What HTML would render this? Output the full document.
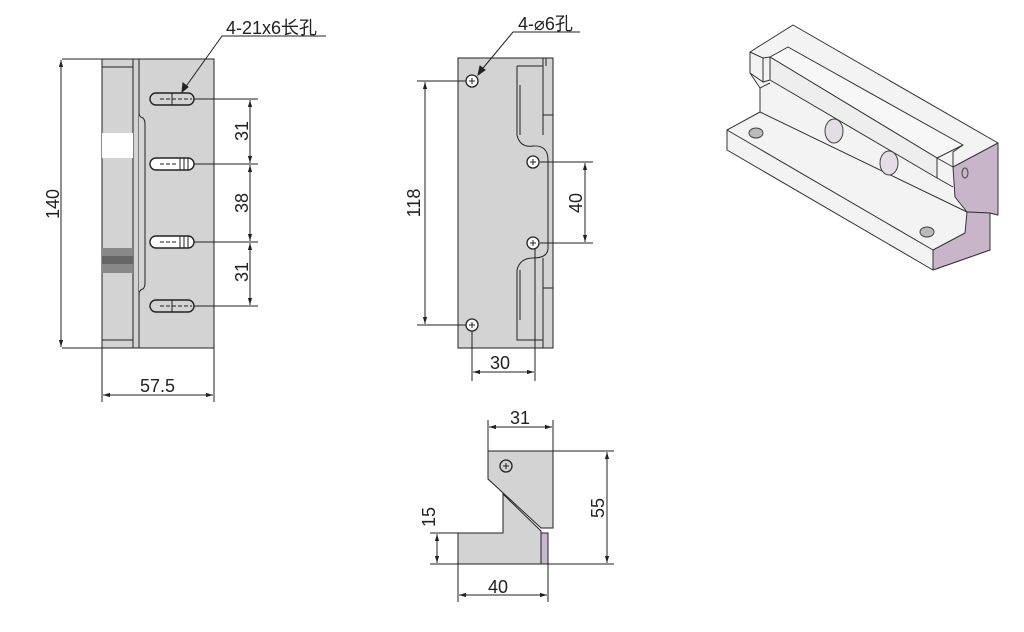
<!DOCTYPE html>
<html><head><meta charset="utf-8"><style>
html,body{margin:0;padding:0;background:#fff;width:1024px;height:632px;overflow:hidden}
svg text{font-family:"Liberation Sans","Noto Sans CJK SC",sans-serif;font-size:18px;fill:#222}
</style></head><body>
<svg width="1024" height="632" viewBox="0 0 1024 632" xmlns="http://www.w3.org/2000/svg">
<defs>
<marker id="a" viewBox="0 0 10 10" refX="10" refY="5" markerWidth="9" markerHeight="7" orient="auto-start-reverse" markerUnits="userSpaceOnUse"><path d="M0,2 L10,5 L0,8 z" fill="#222"/></marker>
</defs>
<g stroke="#222" stroke-width="1" fill="none">
<!-- LEFT VIEW -->
<rect x="102" y="59" width="112" height="289" fill="#d3d3d3"/>
<line x1="133" y1="59" x2="133" y2="348"/><line x1="139" y1="59" x2="139" y2="348"/>
<line x1="102" y1="67" x2="133" y2="67"/><line x1="102" y1="340" x2="133" y2="340"/>
<path d="M139,59 V113 Q139,117 143,118 Q145,120 145,124 V283 Q145,287 143,289 Q139,290 139,294 V348" fill="#d3d3d3"/>
<rect x="102" y="133" width="31" height="25" fill="#fff" stroke="none"/>
<rect x="102" y="248" width="31" height="25" fill="#888" stroke="none"/>
<rect x="102" y="256" width="31" height="8" fill="#666" stroke="none"/>
<rect x="150" y="93" width="44" height="12" rx="6" fill="#d3d3d3" stroke-width="1.4"/>
<rect x="150" y="158" width="44" height="12" rx="6" fill="#fff" stroke-width="1.4"/>
<rect x="150" y="236" width="44" height="12" rx="6" fill="#fff" stroke-width="1.4"/>
<rect x="150" y="300" width="44" height="12" rx="6" fill="#d3d3d3" stroke-width="1.4"/>
<g stroke-dasharray="4,2"><line x1="160" y1="99" x2="192" y2="99"/><line x1="160" y1="306" x2="192" y2="306"/><line x1="160" y1="164" x2="178" y2="164"/><line x1="160" y1="242" x2="178" y2="242"/></g>
<line x1="172" y1="93" x2="172" y2="105"/><line x1="172" y1="300" x2="172" y2="312"/>
<path d="M180,158 V170 M184,158 V170 M188,158 V170 M180,236 V248 M184,236 V248 M188,236 V248"/>
<line x1="62" y1="59" x2="102" y2="59"/><line x1="62" y1="348" x2="102" y2="348"/>
<line x1="61" y1="60" x2="61" y2="347" marker-start="url(#a)" marker-end="url(#a)"/>
<path d="M194,99 H258 M194,164 H258 M194,242 H258 M194,306 H258"/>
<line x1="250" y1="100" x2="250" y2="163" marker-start="url(#a)" marker-end="url(#a)"/>
<line x1="250" y1="165" x2="250" y2="241" marker-start="url(#a)" marker-end="url(#a)"/>
<line x1="250" y1="243" x2="250" y2="305" marker-start="url(#a)" marker-end="url(#a)"/>
<path d="M102,348 V402 M214,348 V402"/>
<line x1="103" y1="395" x2="213" y2="395" marker-start="url(#a)" marker-end="url(#a)"/>
<path d="M326,36 H222 L182,92"/><path d="M182,92 l1,-9 l5,4 z" fill="#222"/>
<!-- MIDDLE VIEW -->
<rect x="458" y="58" width="95" height="290" fill="#d3d3d3"/>
<path d="M543,58 V135 M517,66 V135 Q520,148 533,146 Q548,145 548,160 V248 Q548,258 533,258 Q520,258 517,270 V340 H543"/>
<path d="M517,66 H543 M543,115 H553 M543,288 H553 M520,135 V85 M520,270 V320"/>
<path d="M543,258 V348 M543,58 H546 V66"/>
<g fill="#fff" stroke-width="1.3"><circle cx="472" cy="81" r="6"/><circle cx="533" cy="162" r="6"/><circle cx="533" cy="243" r="6"/><circle cx="472" cy="325" r="6"/></g>
<path d="M469,81 h6 M472,78 v6 M530,162 h6 M533,159 v6 M530,243 h6 M533,240 v6 M469,325 h6 M472,322 v6"/>
<line x1="417" y1="81" x2="466" y2="81"/><line x1="417" y1="325" x2="466" y2="325"/>
<line x1="425" y1="82" x2="425" y2="324" marker-start="url(#a)" marker-end="url(#a)"/>
<line x1="540" y1="162" x2="593" y2="162"/><line x1="540" y1="243" x2="593" y2="243"/>
<line x1="585" y1="163" x2="585" y2="242" marker-start="url(#a)" marker-end="url(#a)"/>
<path d="M472,331 V381 M535,249 V381"/>
<line x1="473" y1="372" x2="534" y2="372" marker-start="url(#a)" marker-end="url(#a)"/>
<path d="M580,32 H513 L479,73"/><path d="M478,75 l2,-9 l5,4 z" fill="#222"/>
<!-- BOTTOM VIEW -->
<path d="M488,451 H553 V528 H541 L488,479 Z" fill="#d3d3d3"/>
<path d="M458,564 V533 H503 V494 L541,531 V564 Z" fill="#d3d3d3"/>
<rect x="541" y="533" width="7" height="31" fill="#c8b8cc"/>
<circle cx="506" cy="466" r="6" fill="#d3d3d3" stroke-width="1.3"/><path d="M503,466 h6 M506,463 v6"/>
<path d="M488,451 V420 M553,451 V420"/>
<line x1="489" y1="427" x2="552" y2="427" marker-start="url(#a)" marker-end="url(#a)"/>
<path d="M553,451 H614 M548,564 H614"/>
<line x1="607" y1="452" x2="607" y2="563" marker-start="url(#a)" marker-end="url(#a)"/>
<path d="M430,533 H458 M430,564 H458"/>
<line x1="437" y1="534" x2="437" y2="563" marker-start="url(#a)" marker-end="url(#a)"/>
<path d="M458,564 V602 M548,564 V602"/>
<line x1="459" y1="595" x2="547" y2="595" marker-start="url(#a)" marker-end="url(#a)"/>
<!-- ISO VIEW -->
<g stroke-width="1" stroke="#333" stroke-linejoin="round">
<path d="M727,130 L760,112 L760,88 L750,73 L750,52 L793,25 L998,143 L998,215 L990,213 L990,250 L933,270 L727,150 Z" fill="#f3f3f3"/>
<path d="M770,57 L788,47 L963,145 L937,158 Z" fill="#f7f7f7"/>
<path d="M770,57 L937,158 L937,178 L770,80 Z" fill="#eeeeee"/>
<path d="M750,52 L763,58 L763,82 L750,73"/>
<path d="M763,58 L770,57 M763,82 L770,80"/>
<path d="M760,88 L770,83 M760,112 L967,212"/>
<path d="M937,178 L953,187"/>
<path d="M953,167 L998,143 L998,215 L990,213 L967,212 L955,197 Z" fill="#c9b5c9"/>
<path d="M963,145 L953,152 L953,167 M937,158 L953,167"/>
<path d="M727,130 L933,250 V270"/>
<path d="M933,250 L965,233 L967,212 L990,213 L990,250 L933,270 Z" fill="#c9b5c9"/>
</g>
<g stroke="#444"><ellipse cx="756" cy="133" rx="7" ry="5" fill="#bbb"/><ellipse cx="927" cy="232" rx="7" ry="5" fill="#bbb"/><ellipse cx="834" cy="131" rx="9" ry="12" fill="#e4dde6"/><ellipse cx="889" cy="163" rx="9" ry="12" fill="#e4dde6"/><ellipse cx="965" cy="173" rx="3" ry="5" fill="none"/></g>
</g>
<text x="226" y="34">4-21x6长孔</text>
<text x="518" y="30">4-⌀6孔</text>
<text x="140" y="392">57.5</text>
<text x="490" y="369">30</text>
<text x="510" y="424">31</text>
<text x="488" y="593">40</text>
<text transform="translate(59,204) rotate(-90)" text-anchor="middle">140</text>
<text transform="translate(248,131) rotate(-90)" text-anchor="middle">31</text>
<text transform="translate(248,203) rotate(-90)" text-anchor="middle">38</text>
<text transform="translate(248,272) rotate(-90)" text-anchor="middle">31</text>
<text transform="translate(420,203) rotate(-90)" text-anchor="middle">118</text>
<text transform="translate(582,203) rotate(-90)" text-anchor="middle">40</text>
<text transform="translate(604,508) rotate(-90)" text-anchor="middle">55</text>
<text transform="translate(435,517) rotate(-90)" text-anchor="middle">15</text>
</svg>
</body></html>
